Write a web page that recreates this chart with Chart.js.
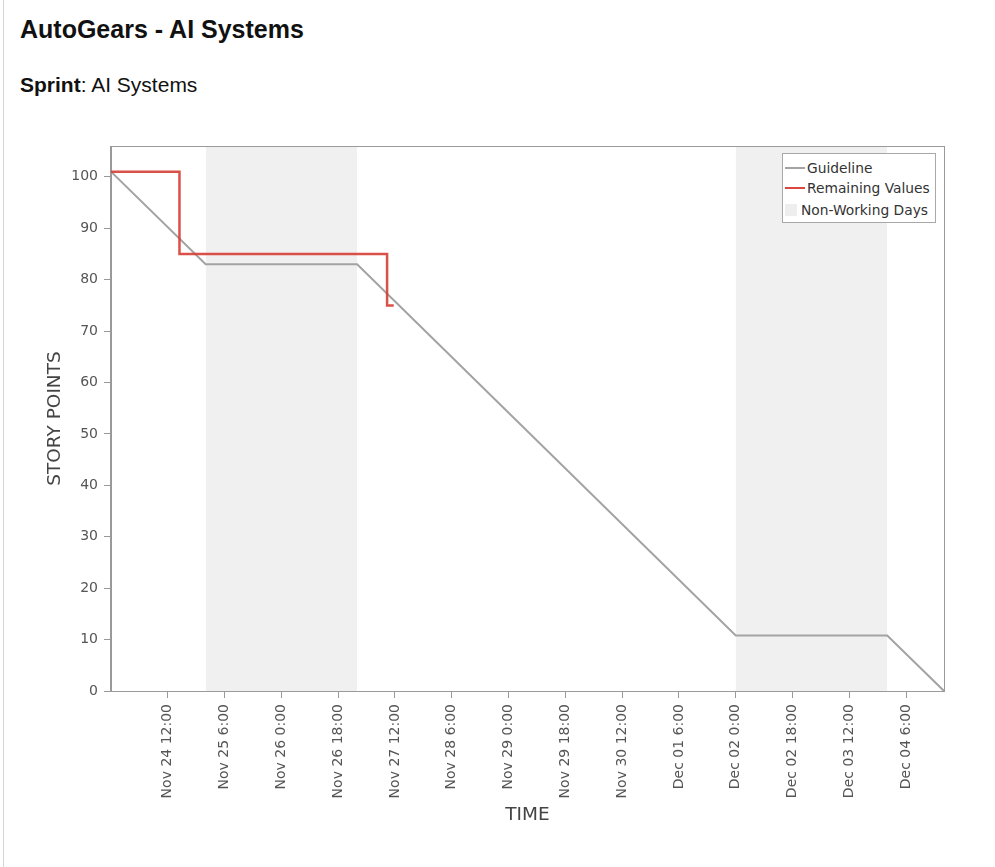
<!DOCTYPE html>
<html>
<head>
<meta charset="utf-8">
<script src="https://cdn.jsdelivr.net/npm/chart.js@4.4.1/dist/chart.umd.min.js"></script>
<style>
  html, body { margin: 0; padding: 0; width: 995px; height: 867px; overflow: hidden; background: #fff; }
  body { font-family: "Liberation Sans", Arial, sans-serif; color: #111; position: relative; }
  #edge { position: absolute; left: 3px; top: 0; width: 1px; height: 867px; background: #d4d4d4; }
  #title { position: absolute; left: 20px; top: 17px; margin: 0; font-size: 25px; line-height: 25px; font-weight: bold; white-space: nowrap; }
  #sub { position: absolute; left: 20px; top: 74px; margin: 0; font-size: 21px; line-height: 21px; white-space: nowrap; }
  #chart { position: absolute; left: 0; top: 0; }
  #legend { position: absolute; left: 782px; top: 153px; width: 154px; height: 70px; box-sizing: border-box;
            border: 1px solid #a8a8a8; background: #fff; font-family: "DejaVu Sans", sans-serif; font-size: 13.8px; color: #333; }
  .row { position: absolute; left: 0; height: 16px; line-height: 16px; white-space: nowrap; }
  .sw { position: absolute; left: 2px; top: 7px; width: 20px; height: 2px; }
  .sq { position: absolute; left: 2px; top: 2px; width: 12px; height: 12px; background: #eeeeee; }
  .lbl { position: absolute; top: 0; }
</style>
</head>
<body>
<div id="edge"></div>
<div id="title">AutoGears - AI Systems</div>
<div id="sub"><b>Sprint</b>: AI Systems</div>
<canvas id="chart" width="995" height="867"></canvas>
<div id="legend">
  <div class="row" style="top:6px"><span class="sw" style="background:#a3a3a3"></span><span class="lbl" style="left:24px">Guideline</span></div>
  <div class="row" style="top:26px"><span class="sw" style="background:#d9473f"></span><span class="lbl" style="left:24px">Remaining Values</span></div>
  <div class="row" style="top:48px"><span class="sq"></span><span class="lbl" style="left:18px">Non-Working Days</span></div>
</div>
<script>
// Time axis: hours elapsed since sprint start (Nov 23 18:00)
const X_MAX = 264;           // Dec 04 18:00
const Y_MAX = 106;

const guideHours  = [0, 30, 78, 198, 246, 264];
const guideValues = [101, 83, 83, 10.8, 10.8, 0];

const remainingHours  = [0, 21.7, 87.5, 89.6];
const remainingValues = [101, 85, 75, 75];

const nonWorkingStart = [30, 198];   // Nov 25 0:00, Dec 02 0:00
const nonWorkingEnd   = [78, 246];   // Nov 27 0:00, Dec 04 0:00

const xTickHours  = [18, 36, 54, 72, 90, 108, 126, 144, 162, 180, 198, 216, 234, 252];
const xTickLabels = ['Nov 24 12:00', 'Nov 25 6:00', 'Nov 26 0:00', 'Nov 26 18:00', 'Nov 27 12:00',
                     'Nov 28 6:00', 'Nov 29 0:00', 'Nov 29 18:00', 'Nov 30 12:00', 'Dec 01 6:00',
                     'Dec 02 0:00', 'Dec 02 18:00', 'Dec 03 12:00', 'Dec 04 6:00'];
const yTickValues = [0, 10, 20, 30, 40, 50, 60, 70, 80, 90, 100];

const guideData = guideHours.map((h, i) => ({ x: h, y: guideValues[i] }));
const remainingData = remainingHours.map((h, i) => ({ x: h, y: remainingValues[i] }));
const shadeData = [];
nonWorkingStart.forEach((s, i) => {
  shadeData.push({ x: s, y: Y_MAX }, { x: nonWorkingEnd[i], y: Y_MAX });
  if (i < nonWorkingStart.length - 1) shadeData.push({ x: (nonWorkingEnd[i] + nonWorkingStart[i + 1]) / 2, y: null });
});

const frame = {
  id: 'frame',
  afterDatasetsDraw(chart) {
    const a = chart.chartArea, c = chart.ctx;
    c.save();
    c.strokeStyle = '#9a9a9a';
    c.lineWidth = 1;
    c.strokeRect(Math.round(a.left) - 0.5, Math.round(a.top) + 0.5, Math.round(a.right - a.left) + 1, Math.round(a.bottom - a.top));
    c.restore();
  }
};

const FONT = "'DejaVu Sans', sans-serif";

new Chart(document.getElementById('chart'), {
  type: 'line',
  data: {
    datasets: [
      { label: 'Remaining Values', data: remainingData, borderColor: 'rgba(214,62,54,0.9)', borderWidth: 2.5,
        stepped: 'before', pointRadius: 0, fill: false, tension: 0 },
      { label: 'Guideline', data: guideData, borderColor: '#a3a3a3', borderWidth: 2,
        pointRadius: 0, fill: false, tension: 0 },
      { label: 'Non-Working Days', data: shadeData, borderWidth: 0, borderColor: 'rgba(0,0,0,0)',
        backgroundColor: '#f0f0f0', pointRadius: 0, fill: 'start', spanGaps: false, tension: 0 }
    ]
  },
  options: {
    responsive: false,
    animation: false,
    devicePixelRatio: 1,
    layout: { padding: { left: 40, top: 146, right: 51, bottom: 37 } },
    plugins: { legend: { display: false }, tooltip: { enabled: false }, title: { display: false } },
    scales: {
      x: {
        type: 'linear', min: 0, max: X_MAX,
        afterBuildTicks: s => { s.ticks = xTickHours.map(v => ({ value: v })); },
        afterFit: s => { s.height = 139; },
        ticks: {
          autoSkip: false, minRotation: 90, maxRotation: 90, padding: 6, color: '#555',
          font: { family: FONT, size: 14 },
          callback: v => { const i = xTickHours.indexOf(v); return i >= 0 ? xTickLabels[i] : ''; }
        },
        grid: { drawOnChartArea: false, tickLength: 7, color: '#999', tickColor: '#999' },
        border: { color: '#999', width: 1 },
        title: { display: true, text: 'TIME', color: '#444', font: { family: FONT, size: 18.5 }, padding: { top: 4, bottom: 4 } }
      },
      y: {
        min: 0, max: Y_MAX,
        afterBuildTicks: s => { s.ticks = yTickValues.map(v => ({ value: v })); },
        afterFit: s => { s.width = 71; },
        ticks: { padding: 6, color: '#555', font: { family: FONT, size: 14 } },
        grid: { drawOnChartArea: false, tickLength: 7, color: '#999', tickColor: '#999' },
        border: { color: '#999', width: 1 },
        title: { display: true, text: 'STORY POINTS', color: '#444', font: { family: FONT, size: 18.5 }, padding: { top: 4, bottom: 4 } }
      }
    }
  },
  plugins: [frame]
});
</script>
</body>
</html>
